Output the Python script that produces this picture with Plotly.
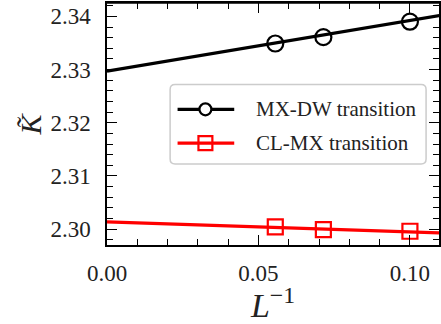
import plotly.graph_objects as go

# Inverse system sizes L = 18, 14, 10
inv_L = [1 / 18, 1 / 14, 1 / 10]

# Transition couplings at each size
k_mx_dw = [2.3349, 2.3361, 2.3390]
k_cl_mx = [2.3004, 2.2999, 2.2996]

# Linear extrapolations to L -> infinity
fit_x = [0.0, 0.11]
fit_mx_dw = [2.3297, 2.3402]
fit_cl_mx = [2.30135, 2.2993]

x_ticks = [0.0, 0.05, 0.10]
x_tick_text = ["0.00", "0.05", "0.10"]
y_ticks = [2.30, 2.31, 2.32, 2.33, 2.34]
y_tick_text = ["2.30", "2.31", "2.32", "2.33", "2.34"]

legend_labels = ["MX-DW transition", "CL-MX transition"]
series_colors = ["black", "red"]

FONT = "Liberation Serif"
W, H = 441, 324
left, top, bottom = 107, 3, 246.5


def px(x):
    """pixel column -> paper x"""
    return (x - left) / (W - left)


def py(y):
    """pixel row -> paper y"""
    return (bottom - y) / (bottom - top)


fig = go.Figure()

for fy, col in zip([fit_mx_dw, fit_cl_mx], series_colors):
    fig.add_trace(go.Scatter(x=fit_x, y=fy, mode="lines",
                             line=dict(color=col, width=3.2),
                             showlegend=False, hoverinfo="skip"))

fig.add_trace(go.Scatter(x=inv_L, y=k_mx_dw, mode="markers", name=legend_labels[0],
                         marker=dict(symbol="circle-open", size=16, color="black",
                                     line=dict(width=2.2, color="black")),
                         showlegend=False))
fig.add_trace(go.Scatter(x=inv_L, y=k_cl_mx, mode="markers", name=legend_labels[1],
                         marker=dict(symbol="square-open", size=15, color="red",
                                     line=dict(width=2.2, color="red")),
                         showlegend=False))

axis_common = dict(
    showgrid=False, zeroline=False,
    showline=True, linecolor="black", linewidth=1.5,
    ticks="inside", ticklen=10, tickwidth=1.3, tickcolor="black",
    mirror="ticks",
    tickfont=dict(family=FONT, size=23, color="#222"),
)

fig.update_xaxes(
    range=[0, 0.1096], tickvals=x_ticks, ticktext=x_tick_text,
    ticklabelstandoff=7,
    minor=dict(ticks="inside", ticklen=6, tickwidth=1.2, tickcolor="black",
               dtick=0.01, tick0=0, showgrid=False),
    title=dict(text="<i>L</i><sup>−1</sup>", font=dict(family=FONT, size=34, color="#222"),
               standoff=14),
    **axis_common,
)
fig.update_yaxes(
    range=[2.29701, 2.34252], tickvals=y_ticks, ticktext=y_tick_text,
    ticklabelstandoff=10,
    minor=dict(ticks="inside", ticklen=6, tickwidth=1.2, tickcolor="black",
               dtick=0.002, tick0=2.30, showgrid=False),
    **axis_common,
)

# y-axis label, written bottom-to-top
fig.add_annotation(x=px(30), y=0.5, xref="paper", yref="paper",
                   text="<i>K̃</i>", textangle=-90, showarrow=False,
                   xanchor="center", yanchor="middle",
                   font=dict(family=FONT, size=30, color="#222"))

# top frame line (right side lies outside the canvas)
fig.add_shape(type="line", xref="paper", yref="paper", x0=0, x1=1, y0=1, y1=1,
              line=dict(color="black", width=1.5), layer="above")

# legend: rounded frame
lx0, lx1, ly0, ly1 = 170.5, 428, 85, 165
r = 5
path = (f"M {px(lx0 + r)},{py(ly0)} L {px(lx1 - r)},{py(ly0)} "
        f"Q {px(lx1)},{py(ly0)} {px(lx1)},{py(ly0 + r)} "
        f"L {px(lx1)},{py(ly1 - r)} Q {px(lx1)},{py(ly1)} {px(lx1 - r)},{py(ly1)} "
        f"L {px(lx0 + r)},{py(ly1)} Q {px(lx0)},{py(ly1)} {px(lx0)},{py(ly1 - r)} "
        f"L {px(lx0)},{py(ly0 + r)} Q {px(lx0)},{py(ly0)} {px(lx0 + r)},{py(ly0)} Z")
fig.add_shape(type="path", path=path, xref="paper", yref="paper",
              line=dict(color="#cccccc", width=1.5), fillcolor="white",
              layer="above")

# legend: handles and labels
rows = [110, 144]
for i, (row, col, label) in enumerate(zip(rows, series_colors, legend_labels)):
    fig.add_shape(type="line", xref="paper", yref="paper",
                  x0=px(178), x1=px(235), y0=py(row), y1=py(row),
                  line=dict(color=col, width=3.2), layer="above")
    cx = 206
    if i == 0:
        rad = 6
        fig.add_shape(type="circle", xref="paper", yref="paper",
                      x0=px(cx - rad), x1=px(cx + rad), y0=py(row + rad), y1=py(row - rad),
                      line=dict(color=col, width=2.2), fillcolor="white", layer="above")
    else:
        h = 7
        fig.add_shape(type="rect", xref="paper", yref="paper",
                      x0=px(cx - h), x1=px(cx + h), y0=py(row + h), y1=py(row - h),
                      line=dict(color=col, width=2.2), fillcolor="rgba(0,0,0,0)",
                      layer="above")
    fig.add_annotation(x=px(255), y=py(row), xref="paper", yref="paper",
                       text=label, showarrow=False, xanchor="left", yanchor="middle",
                       font=dict(family=FONT, size=21, color="#222"))

fig.update_layout(
    width=W, height=H,
    margin=dict(l=left, r=0, t=top, b=H - bottom),
    paper_bgcolor="white", plot_bgcolor="white",
    showlegend=False,
)

fig.write_html("out.html")
